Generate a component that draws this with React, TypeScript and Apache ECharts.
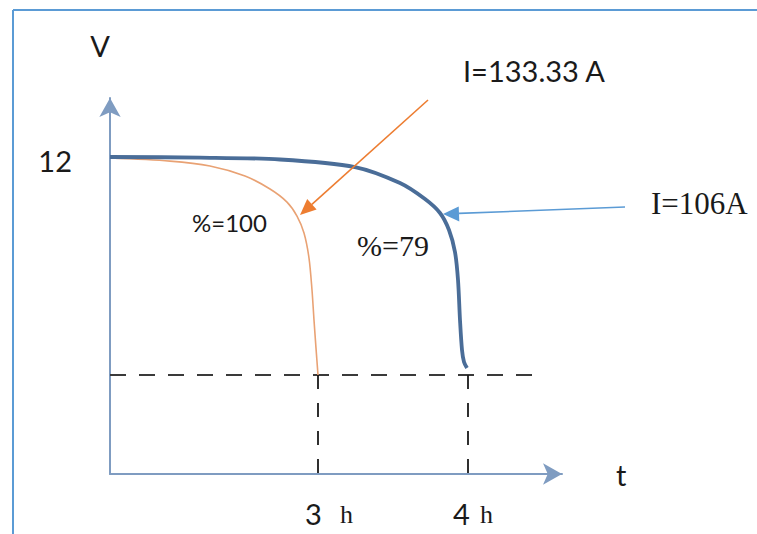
import React, { useEffect, useRef } from 'react';
import * as echarts from 'echarts';

// Schematic time position (1 unit = 1/4.52 of the axis) and battery voltage (V)
const blueCurve: [number, number][] = [
  [0, 12.0], [0.9, 11.996], [1.7, 11.983], [2.45, 11.931], [2.9, 11.821],
  [3.15, 11.711], [3.3, 11.615], [3.39, 11.498], [3.45, 11.346], [3.48, 11.154],
  [3.5, 10.878], [3.52, 10.672], [3.54, 10.589], [3.57, 10.548],
];
const orangeCurve: [number, number][] = [
  [0, 11.993], [0.6, 11.972], [1.0, 11.938], [1.35, 11.869], [1.6, 11.78],
  [1.77, 11.69], [1.87, 11.594], [1.94, 11.477], [1.99, 11.305], [2.02, 11.085],
  [2.04, 10.878], [2.06, 10.685], [2.08, 10.5],
];
const cutoffVoltage = 10.5;
const cutoffLineEnd = 4.27;
const xMin = 0;
const xMax = 4.52;
const yMin = 9.819;
const yMax = 12.406;
const voltageTick = 12;
const timeTicks = [
  { pos: 2.08, num: '3', unit: 'h', numDx: -13, unitDx: 22 },
  { pos: 3.58, num: '4', unit: 'h', numDx: -15, unitDx: 12 },
];

const SANS = 'Lato';
const SERIF = 'Liberation Serif';

export default function App() {
  const ref = useRef<HTMLDivElement>(null);
  useEffect(() => {
    if (!ref.current) return;
    const chart = echarts.init(ref.current, undefined, { renderer: 'svg' });
    const axisColor = '#7f9cc1';
    chart.setOption({
      animation: false,
      backgroundColor: '#ffffff',
      grid: { left: 110, right: 195, top: 98, bottom: 60 },
      xAxis: {
        type: 'value', min: xMin, max: xMax,
        name: 't', nameLocation: 'end', nameGap: 54,
        nameTextStyle: { fontFamily: SANS, fontSize: 29, color: '#1a1a1a', padding: [0, 0, 8, 0] },
        axisLine: { show: true, onZero: false, symbol: ['none', 'arrow'], symbolSize: [16, 19],
          lineStyle: { color: axisColor, width: 2 } },
        axisTick: { show: false }, axisLabel: { show: false }, splitLine: { show: false },
      },
      yAxis: {
        type: 'value', min: yMin, max: yMax,
        name: 'V', nameLocation: 'end', nameGap: 38,
        nameTextStyle: { fontFamily: SANS, fontSize: 29, color: '#1a1a1a', padding: [0, 20, 0, 0] },
        axisLine: { show: true, onZero: false, symbol: ['none', 'arrow'], symbolSize: [16, 19],
          lineStyle: { color: axisColor, width: 2 } },
        axisTick: { show: false }, axisLabel: { show: false }, splitLine: { show: false },
      },
      series: [
        {
          type: 'line', data: [[xMin, cutoffVoltage], [cutoffLineEnd, cutoffVoltage]],
          showSymbol: false, silent: true, z: 1,
          lineStyle: { color: '#3a3a3a', width: 2.2, type: [16, 13] },
        },
        ...timeTicks.map((t) => ({
          type: 'line', data: [[t.pos, cutoffVoltage], [t.pos, yMin]],
          showSymbol: false, silent: true, z: 1,
          lineStyle: { color: '#1a1a1a', width: 1.8, type: [14, 14] },
        })),
        {
          type: 'line', data: orangeCurve, smooth: 0.3,
          showSymbol: false, z: 3,
          lineStyle: { color: '#e9a274', width: 1.6 },
        },
        {
          type: 'line', data: blueCurve, smooth: 0.3,
          showSymbol: false, z: 4,
          lineStyle: { color: '#4a6d98', width: 3.8 },
        },
      ],
    });

    const px = (x: number, y: number) => chart.convertToPixel({ gridIndex: 0 }, [x, y]) as number[];
    const txt = (text: string, x: number, y: number, family: string, size: number, align = 'left') => ({
      type: 'text', x, y, z: 20,
      style: { text, fill: '#1a1a1a', fontFamily: family, fontSize: size, align, verticalAlign: 'middle' },
    });
    const v12 = px(0, voltageTick);
    const elements: any[] = [
      { type: 'line', shape: { x1: 13, y1: 10, x2: 757, y2: 10 }, style: { stroke: '#5b9bd5', lineWidth: 2 } },
      { type: 'line', shape: { x1: 13, y1: 10, x2: 13, y2: 534 }, style: { stroke: '#5b9bd5', lineWidth: 2 } },
      txt(String(voltageTick), 72, v12[1] + 3, SANS, 29, 'right'),
      txt('I=133.33 A', 463, 70, SANS, 29),
      txt('I=106A', 651, 203, SERIF, 31),
      txt('%=100', 192, 222, SANS, 24),
      txt('%=79', 357, 245, SERIF, 30),
      // orange pointer
      { type: 'line', z: 15, shape: { x1: 428, y1: 100, x2: 311.9, y2: 204.3 }, style: { stroke: '#ed7d31', lineWidth: 1.6 } },
      { type: 'polygon', z: 15, shape: { points: [[300, 215], [316.6, 209.5], [307.2, 199.1]] }, style: { fill: '#ed7d31' } },
      // blue pointer
      { type: 'line', z: 15, shape: { x1: 625, y1: 207, x2: 459, y2: 213.4 }, style: { stroke: '#5b9bd5', lineWidth: 1.6 } },
      { type: 'polygon', z: 15, shape: { points: [[443, 214], [459.3, 221.4], [458.7, 206.4]] }, style: { fill: '#5b9bd5' } },
    ];
    timeTicks.forEach((t) => {
      const p = px(t.pos, yMin);
      elements.push(txt(t.num, p[0] + t.numDx, 513, SANS, 29));
      elements.push(txt(t.unit, p[0] + t.unitDx, 514, SERIF, 26));
    });
    chart.setOption({ graphic: { elements } });
    return () => chart.dispose();
  }, []);
  return <div ref={ref} style={{ position: 'fixed', left: 0, top: 0, width: 757, height: 534 }} />;
}
